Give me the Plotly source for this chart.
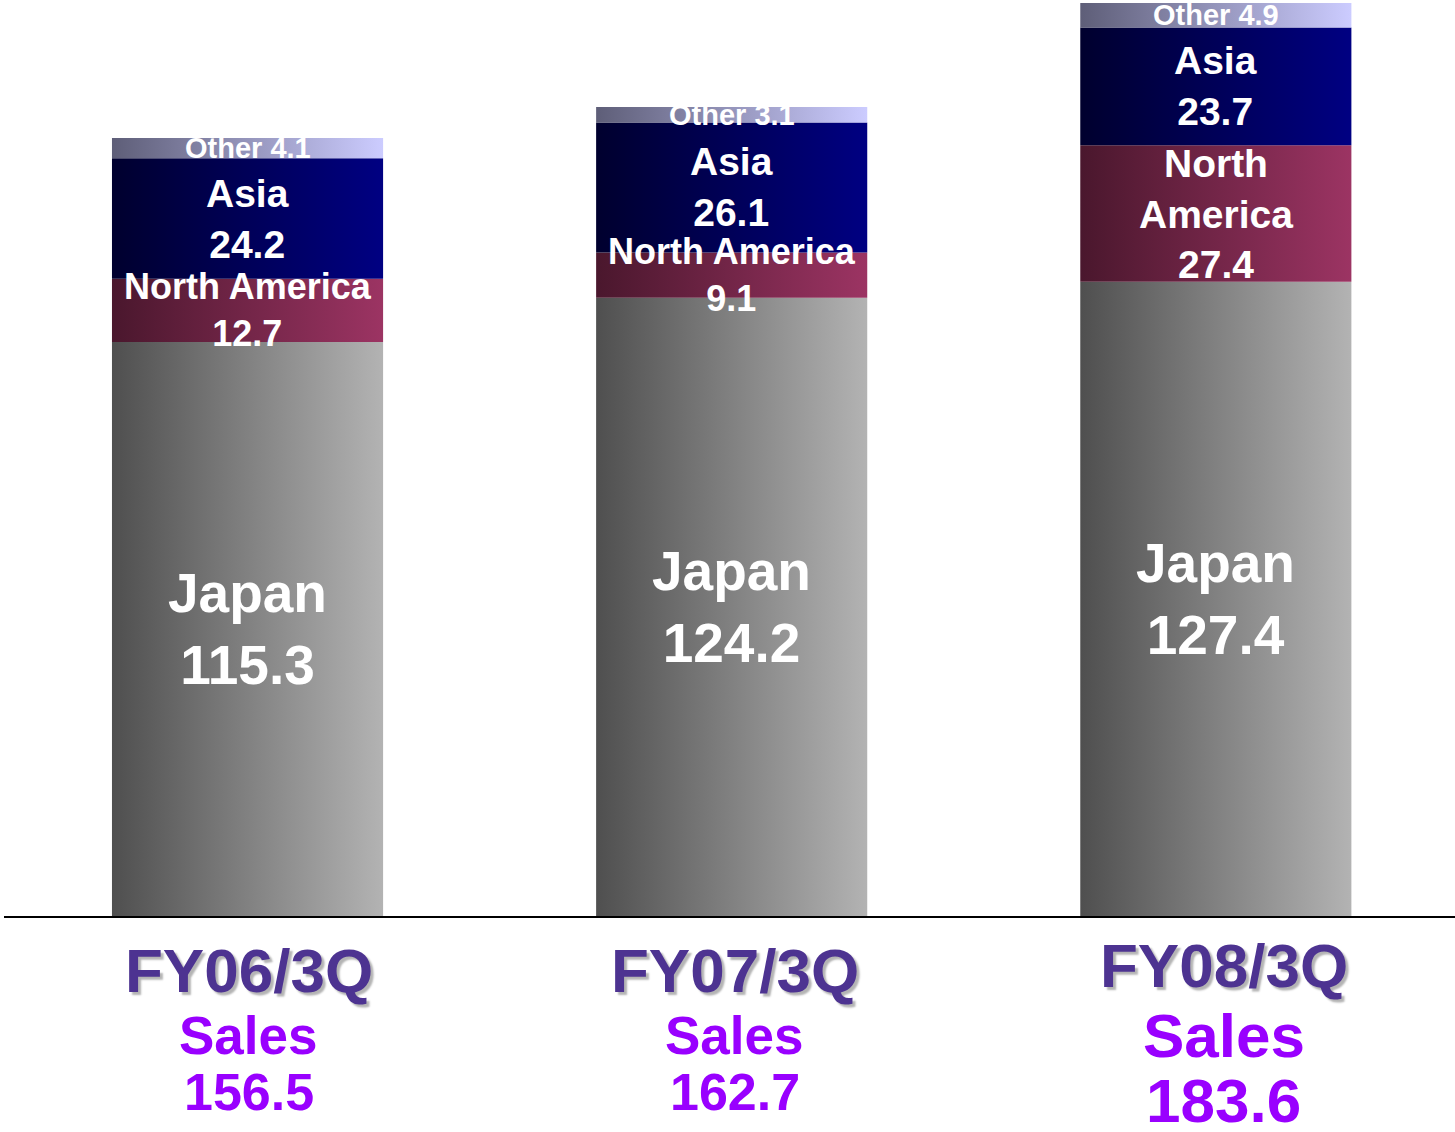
import plotly.graph_objects as go

# sales by region (billion yen)
categories = ["FY06/3Q", "FY07/3Q", "FY08/3Q"]
japan = [115.3, 124.2, 127.4]
north_america = [12.7, 9.1, 27.4]
asia = [24.2, 26.1, 23.7]
other = [4.1, 3.1, 4.9]
sales = [156.5, 162.7, 183.6]

segments = [
    ("Japan", japan, ["Japan", "Japan", "Japan"]),
    ("North America", north_america, ["North America", "North America", "North<br>America"]),
    ("Asia", asia, ["Asia", "Asia", "Asia"]),
    ("Other", other, ["Other", "Other", "Other"]),
]

# left -> right gradient for each region
gradients = {
    "Japan": ("#4f4f4f", "#b3b3b3"),
    "North America": ("#4a172d", "#9c3463"),
    "Asia": ("#00002e", "#000082"),
    "Other": ("#5e5e78", "#ccccff"),
}
label_sizes = {"Japan": 55, "North America": 36, "Asia": 39, "Other": 29}

half = 0.28
fig = go.Figure()
annotations = []

base = [0.0] * len(categories)
for name, vals, labels in segments:
    for i, v in enumerate(vals):
        x0, x1 = i - half, i + half
        y0, y1 = base[i], base[i] + v
        c0, c1 = gradients[name]
        fig.add_trace(go.Scatter(
            x=[x0, x1, x1, x0, x0], y=[y0, y0, y1, y1, y0],
            mode="none", fill="toself",
            fillgradient=dict(type="horizontal", colorscale=[[0, c0], [1, c1]]),
            hoverinfo="skip", showlegend=False,
        ))
        sep = " " if name == "Other" else "<br>"
        size = label_sizes[name]
        if name == "North America" and i == 2:
            size = 39
        annotations.append(dict(
            x=i, y=(y0 + y1) / 2, xref="x", yref="y",
            text=f"{labels[i]}{sep}{v}", showarrow=False,
            font=dict(family="Liberation Sans, Arial", size=size, color="white", weight="bold"),
            xanchor="center", yanchor="middle",
        ))
        base[i] = y1

# category labels under the axis (sit slightly right of the bar centres)
label_nudge = [1, 3, 8]
for i, cat in enumerate(categories):
    big = i == 2
    annotations.append(dict(
        x=i, y=0, xref="x", yref="paper", yshift=-49 if big else -54,
        xshift=label_nudge[i],
        text=cat, showarrow=False, xanchor="center", yanchor="middle",
        font=dict(family="Liberation Sans, Arial", size=62, color="#4d3391",
                  weight="bold", shadow="3px 3px 2px #b4b4b4"),
    ))
    annotations.append(dict(
        x=i, y=0, xref="x", yref="paper", yshift=-119, xshift=label_nudge[i],
        text="Sales", showarrow=False, xanchor="center", yanchor="middle",
        font=dict(family="Liberation Sans, Arial", size=62 if big else 53,
                  color="#9900ff", weight="bold"),
    ))
    annotations.append(dict(
        x=i, y=0, xref="x", yref="paper", yshift=-184 if big else -176,
        xshift=label_nudge[i], height=54,
        text=f"{sales[i]}", showarrow=False, xanchor="center", yanchor="middle",
        font=dict(family="Liberation Sans, Arial", size=62 if big else 52,
                  color="#9900ff", weight="bold"),
    ))

fig.update_layout(
    width=1455, height=1132,
    margin=dict(l=4, r=0, t=0, b=216),
    paper_bgcolor="white", plot_bgcolor="white",
    showlegend=False,
    annotations=annotations,
    xaxis=dict(range=[-0.503, 2.494], showgrid=False, zeroline=False,
               showticklabels=False, ticks="", showline=True,
               linecolor="black", linewidth=2, fixedrange=True),
    yaxis=dict(range=[0, 184], visible=False, showgrid=False, fixedrange=True),
)

# drop the default page margin so the figure sits at the window's corner
fig.write_html("out.html", config={"displayModeBar": False},
               post_script="document.body.style.margin='0';")
